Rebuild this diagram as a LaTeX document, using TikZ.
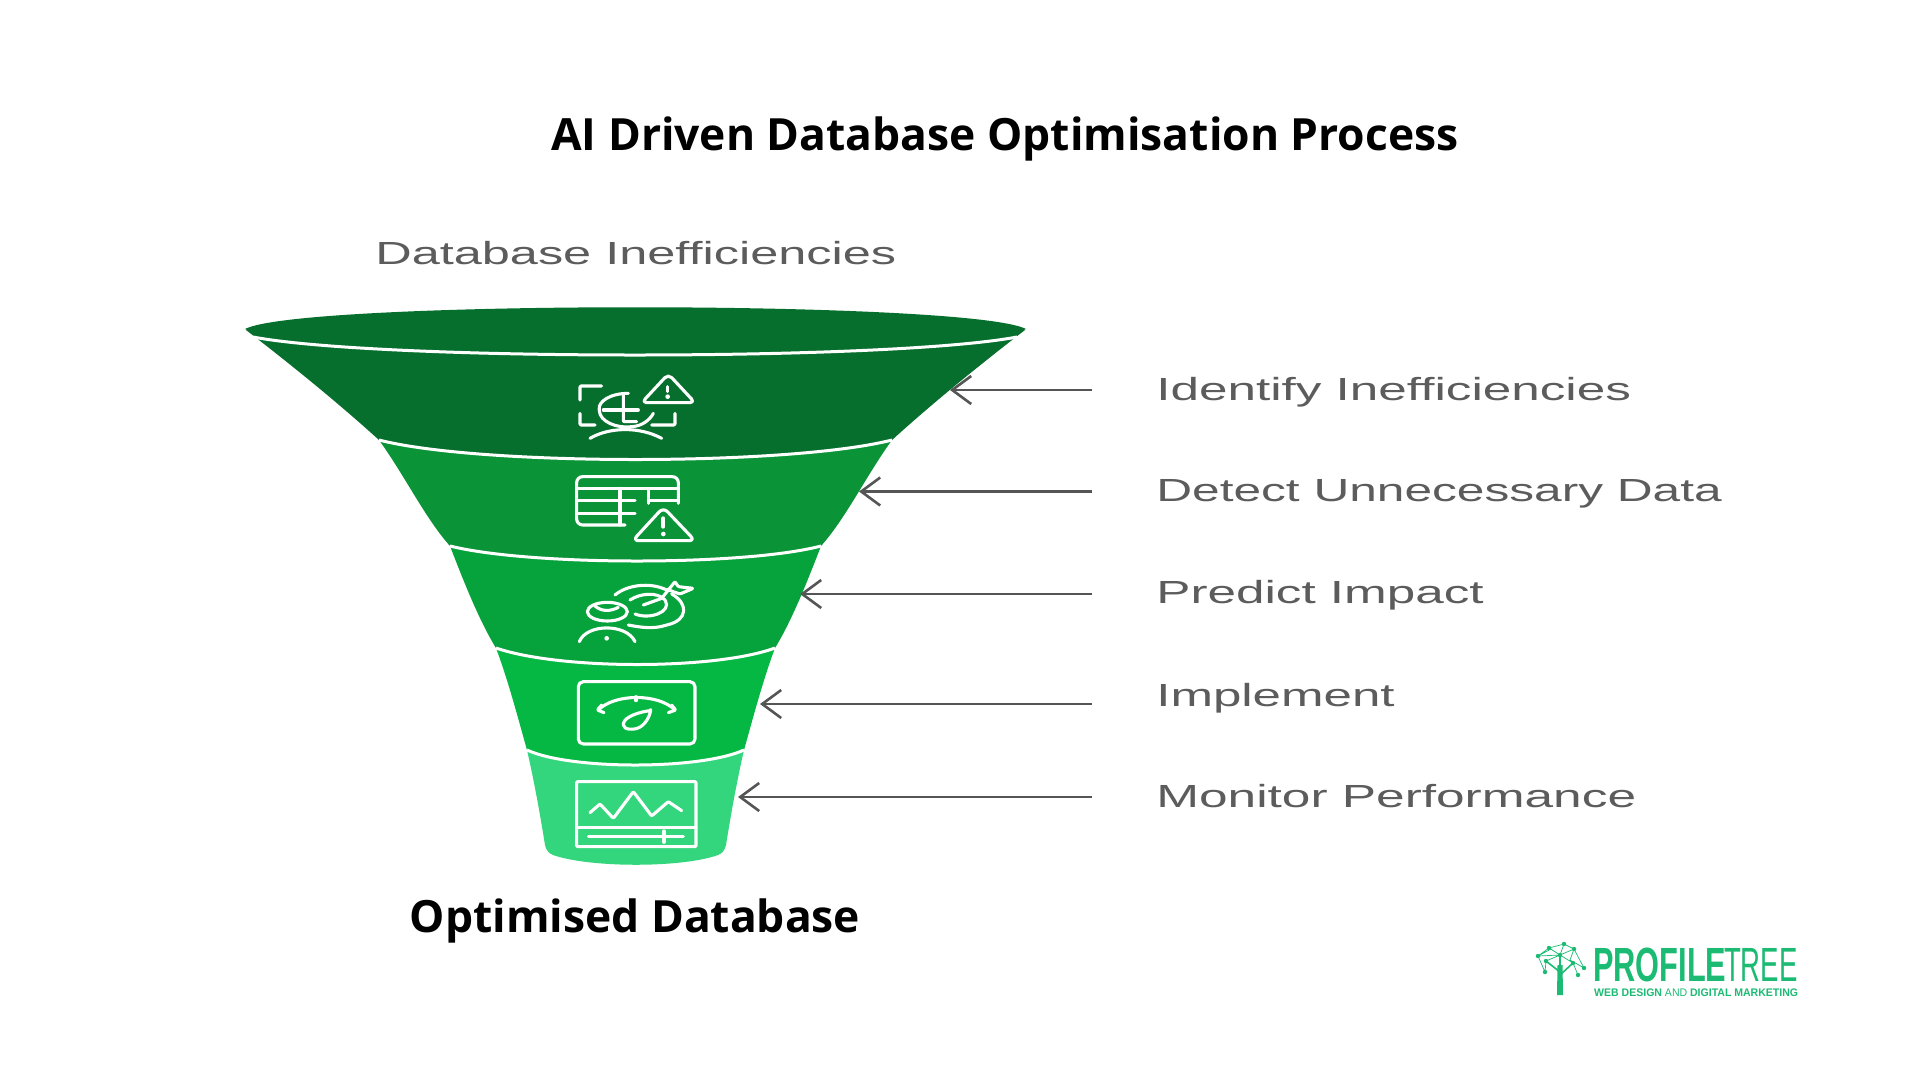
\documentclass[tikz,border=0pt]{standalone}
\usepackage{fontspec}
\usetikzlibrary{arrows.meta}
\setmainfont{Open Sans}
\newfontfamily\lblfont{Liberation Sans}
\newfontfamily\logofont{Liberation Sans}
\definecolor{segA}{HTML}{076F2E}
\definecolor{segB}{HTML}{0A9437}
\definecolor{segC}{HTML}{06A23C}
\definecolor{segD}{HTML}{04B843}
\definecolor{segE}{HTML}{33D67C}
\definecolor{lbl}{HTML}{5C5C5C}
\definecolor{arr}{HTML}{555555}
\definecolor{logo}{HTML}{1CBB74}
\tikzset{
  headtext/.style={font=\fontsize{44.4}{48}\selectfont\bfseries,text=black,inner sep=0pt},
  steptext/.style={font=\lblfont\fontsize{32}{35}\selectfont,text=lbl,inner sep=0pt,anchor=base west},
  pointer/.style={draw=arr,line width=2.4pt,{Straight Barb[length=19pt,width=28pt,line width=2.6pt]}-},
  divider/.style={draw=white,line width=3pt},
  icon/.style={draw=white,line width=3.1pt,line cap=round,line join=round,rounded corners=1pt},
}
\begin{document}
\begin{tikzpicture}[x=1pt,y=-1pt]
\useasboundingbox[fill=white] (0,0) rectangle (1920,1080);
% funnel body
\fill[segE] (527,750) .. controls (535,785) and (541,820) .. (545,845) .. controls (547,852) and (549,853) .. (553,855) .. controls (590,868) and (682,868) .. (718,855) .. controls (722,853) and (724,852) .. (726,845) .. controls (730,820) and (736,785) .. (744,750) -- cycle;
\fill[segD] (496,648) .. controls (508,680) and (518,718) .. (527,750) .. controls (570,770) and (700,770) .. (744,750) .. controls (753,718) and (763,680) .. (775,648) -- cycle;
\fill[segC] (450,546) .. controls (465,585) and (480,622) .. (496,648) .. controls (560,670) and (715,670) .. (775,648) .. controls (791,622) and (806,585) .. (821,546) -- cycle;
\fill[segB] (379,440) .. controls (405,476) and (425,518) .. (450,546) .. controls (530,566) and (745,566) .. (821,546) .. controls (846,518) and (866,476) .. (892,440) -- cycle;
\fill[segA] (246,330) .. controls (285,360) and (335,400) .. (379,440) .. controls (480,466) and (790,466) .. (892,440) .. controls (936,400) and (986,360) .. (1025,330) -- cycle;
% mouth
\fill[segA] (245,329) .. controls (300,300) and (970,300) .. (1026,329) .. controls (970,357) and (300,357) .. (245,329) -- cycle;
% dividers
\draw[divider] (253,337) .. controls (380,361) and (890,361) .. (1017,337);
\draw[divider] (379,440) .. controls (480,466) and (790,466) .. (892,440);
\draw[divider] (450,546) .. controls (530,566) and (745,566) .. (821,546);
\draw[divider] (496,648) .. controls (560,670) and (715,670) .. (775,648);
\draw[divider] (527,750) .. controls (570,770) and (700,770) .. (744,750);
% texts
\node[headtext] (title) at (1005,139) {AI Driven Database Optimisation Process};
\node[headtext] (bottom) at (635,921) {Optimised Database};
\node[steptext,xscale=1.577] (top) at (375,264) {Database Inefficiencies};
\node[steptext,xscale=1.601] (l1) at (1156,400) {Identify Inefficiencies};
\node[steptext,xscale=1.551] (l2) at (1156,501.5) {Detect Unnecessary Data};
\node[steptext,xscale=1.601] (l3) at (1156,603) {Predict Impact};
\node[steptext,xscale=1.595] (l4) at (1156,706) {Implement};
\node[steptext,xscale=1.606] (l5) at (1156,807.5) {Monitor Performance};
% arrows
\coordinate (s1) at (1092,390); \coordinate (t1) at (950,390);
\coordinate (s2) at (1092,491.5); \coordinate (t2) at (859,491.5);
\coordinate (s3) at (1092,594); \coordinate (t3) at (800,594);
\coordinate (s4) at (1092,704); \coordinate (t4) at (760,704);
\coordinate (s5) at (1092,797); \coordinate (t5) at (738,797);
\draw[pointer] (t1) -- (s1);
\draw[pointer] (t2) -- (s2);
\draw[pointer] (t3) -- (s3);
\draw[pointer] (t4) -- (s4);
\draw[pointer] (t5) -- (s5);
% icons top two
\begin{scope}[shift={(560,360)},x=.3333pt,y=-.3333pt]
\draw[icon] (125,78) -- (60,78) -- (60,120);
\draw[icon] (60,160) -- (60,195) -- (105,195);
\draw[icon] (345,160) -- (345,195) -- (275,195);
\draw[icon] (205,100) .. controls (150,100) and (115,125) .. (118,150) .. controls (120,185) and (170,205) .. (215,200) .. controls (245,198) and (270,180) .. (280,160);
\draw[icon] (130,150) -- (235,150);
\draw[icon] (190,105) -- (190,185) -- (230,185);
\draw[icon] (90,235) .. controls (150,200) and (240,200) .. (305,235);
\draw[icon,rounded corners=5pt] (325,42) -- (245,128) -- (405,128) -- cycle;
\draw[icon] (323,80) -- (323,95);
\fill[white] (323,110) circle (7);
\draw[icon,rounded corners=6pt] (355,430) -- (355,350) -- (50,350) -- (50,495) -- (195,495);
\draw[icon] (50,385) -- (355,385);
\draw[icon] (50,422) -- (225,422);
\draw[icon] (265,422) -- (355,422);
\draw[icon] (50,460) -- (225,460);
\draw[icon] (180,385) -- (180,495);
\draw[icon] (265,385) -- (265,430);
\draw[icon,rounded corners=6pt] (310,442) -- (218,542) -- (405,542) -- cycle;
\draw[icon,line width=4pt] (310,475) -- (310,500);
\fill[white] (310,522) circle (7);
\end{scope}
% icons lower three
\begin{scope}[shift={(560,570)},x=.3333pt,y=-.3333pt]
\draw[icon] (142,125) ellipse [x radius=60,y radius=28];
\draw[icon] (105,108) .. controls (125,125) and (150,125) .. (175,112);
\draw[icon] (58,215) .. controls (80,160) and (200,160) .. (225,215);
\fill[white] (140,205) circle (7);
\draw[icon] (165,75) .. controls (200,45) and (270,35) .. (320,60);
\draw[icon] (335,72) .. controls (385,100) and (385,150) .. (320,165) .. controls (280,178) and (240,172) .. (205,165);
\draw[icon] (210,90) .. controls (240,70) and (290,65) .. (315,90) .. controls (335,125) and (270,150) .. (225,132);
\draw[icon] (250,105) -- (305,85);
\draw[icon] (305,85) -- (345,35) -- (355,50) -- (400,55) -- (360,72) -- (340,65) -- (322,58);
\draw[icon,rounded corners=5pt] (55,335) rectangle (405,522);
\draw[icon] (115,420) .. controls (165,370) and (295,370) .. (345,420);
\draw[icon] (228,380) -- (228,392);
\draw[icon] (125,405) -- (112,420) -- (132,428);
\draw[icon] (335,405) -- (347,420) -- (325,428);
\draw[icon] (272,422) .. controls (240,425) and (195,440) .. (190,462) .. controls (190,480) and (225,482) .. (245,468) .. controls (260,455) and (268,440) .. (272,422) -- cycle;
\draw[icon] (50,635) rectangle (408,830);
\draw[icon] (50,772) -- (408,772);
\draw[icon] (90,728) -- (120,702) -- (160,745) -- (220,665) -- (275,738) -- (325,695) -- (365,722);
\draw[icon] (85,800) -- (370,800);
\draw[icon,line width=4.5pt] (312,785) -- (312,815);
\end{scope}
% logo
\node[font=\logofont\bfseries\fontsize{48}{50}\selectfont,text=logo,inner sep=0pt,anchor=base west,xscale=.64] (brand) at (1593,981) {PROFILE};
\node[font=\logofont\fontsize{48}{50}\selectfont,text=logo,inner sep=0pt,anchor=base west,xscale=.575] (brand2) at (1724,981) {TREE};
\node[font=\logofont\bfseries\fontsize{11}{12}\selectfont,text=logo,inner sep=0pt,anchor=base west,xscale=.957] (tag) at (1594,996) {WEB DESIGN \textmd{AND} DIGITAL MARKETING};
\begin{scope}[logo]
\fill (1557.5,965) -- (1562.5,965) -- (1563,995) -- (1557,995) -- cycle;
\draw[line width=1.6pt] (1560,972) -- (1546,961) (1560,975) -- (1573,963) (1560,970) -- (1560,955);
\draw[line width=.7pt] (1538,956) -- (1549,948) -- (1564,944) -- (1574,949) -- (1584,968) -- (1570,960) -- (1574,949) (1538,956) -- (1551,949) -- (1560,955) -- (1538,956) -- (1545,972) -- (1546,961) -- (1560,955) -- (1573,963) -- (1578,975) (1549,948) -- (1560,955) -- (1564,944) (1574,949) -- (1560,955);
\foreach \p in {(1538,956),(1549,948),(1564,944),(1574,949),(1584,968),(1573,963),(1546,961),(1545,972),(1560,955),(1578,975)} \fill \p circle (2.2);
\end{scope}
\end{tikzpicture}
\end{document}
